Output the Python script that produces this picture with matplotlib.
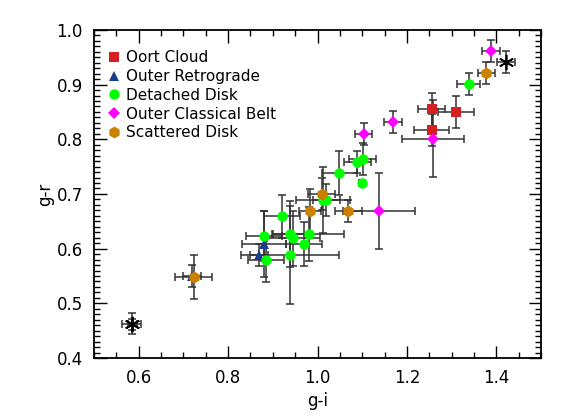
import matplotlib
matplotlib.use("Agg")
import matplotlib.pyplot as plt
from matplotlib.ticker import MultipleLocator

# Oort Cloud
oc_x = [1.255, 1.309, 1.255]
oc_y = [0.855, 0.850, 0.817]
oc_xe = [0.03, 0.04, 0.04]
oc_ye = [0.03, 0.03, 0.03]

# Outer Retrograde
or_x = [0.880, 0.869, 0.720]
or_y = [0.608, 0.588, 0.550]
or_xe = [0.05, 0.02, 0.02]
or_ye = [0.06, 0.02, 0.02]

# Detached Disk
dd_x = [0.880, 0.885, 0.920, 0.938, 0.946, 0.939, 0.970, 0.980, 1.012, 1.020, 1.049, 1.089, 1.101, 1.100, 1.338]
dd_y = [0.623, 0.579, 0.659, 0.627, 0.619, 0.588, 0.609, 0.627, 0.689, 0.689, 0.739, 0.759, 0.764, 0.720, 0.901]
dd_xe = [0.04, 0.04, 0.04, 0.04, 0.06, 0.11, 0.04, 0.08, 0.06, 0.03, 0.039, 0.03, 0.03, 0.007, 0.025]
dd_ye = [0.045, 0.04, 0.04, 0.06, 0.05, 0.09, 0.04, 0.05, 0.06, 0.03, 0.04, 0.02, 0.03, 0.006, 0.02]

# Outer Classical Belt
ocb_x = [1.103, 1.168, 1.258, 1.138, 1.388]
ocb_y = [0.810, 0.831, 0.801, 0.669, 0.961]
ocb_xe = [0.019, 0.02, 0.069, 0.08, 0.02]
ocb_ye = [0.02, 0.02, 0.07, 0.07, 0.02]

# Scattered Disk
sd_x = [0.723, 0.983, 1.009, 1.069, 1.378]
sd_y = [0.548, 0.669, 0.700, 0.669, 0.921]
sd_xe = [0.041, 0.025, 0.03, 0.03, 0.02]
sd_ye = [0.04, 0.04, 0.03, 0.02, 0.02]

# Reference (asterisks)
st_x = [0.584, 0.586, 1.421]
st_y = [0.463, 0.462, 0.942]
st_xe = [0.021, 0.01, 0.02]
st_ye = [0.02, 0.01, 0.02]

plt.rcParams['font.family'] = ['DejaVu Sans']
fig = plt.figure(figsize=(5.68, 4.19), dpi=100)
ax = fig.add_axes([0.1655, 0.1456, 0.787, 0.783])

ecol = '0.2'
ekw = dict(fmt='none', ecolor=ecol, elinewidth=1.1, capsize=3, capthick=1.1, zorder=2)

groups = [
    (oc_x, oc_y, oc_xe, oc_ye, 's', '#d42020', 'Oort Cloud', 7.5),
    (or_x, or_y, or_xe, or_ye, '^', '#1a3c8c', 'Outer Retrograde', 7.5),
    (dd_x, dd_y, dd_xe, dd_ye, 'o', '#00ff00', 'Detached Disk', 7.5),
    (ocb_x, ocb_y, ocb_xe, ocb_ye, 'D', '#ff00ff', 'Outer Classical Belt', 6.5),
    (sd_x, sd_y, sd_xe, sd_ye, 'h', '#cc8000', 'Scattered Disk', 8.5),
]

for x, y, xe, ye, m, c, lab, ms in groups:
    ax.errorbar(x, y, xerr=xe, yerr=ye, **ekw)
for x, y, xe, ye, m, c, lab, ms in groups:
    ax.plot(x, y, linestyle='none', marker=m, color=c, markersize=ms,
            markeredgewidth=0, label=lab, zorder=3)

ax.errorbar(st_x, st_y, xerr=st_xe, yerr=st_ye, **ekw)
ax.plot(st_x, st_y, linestyle='none', marker=(6, 2, 0), color='black',
        markersize=11, markeredgewidth=1.2, zorder=4)

ax.set_xlim(0.5, 1.5)
ax.set_ylim(0.4, 1.0)
ax.xaxis.set_major_locator(MultipleLocator(0.2))
ax.xaxis.set_minor_locator(MultipleLocator(0.05))
ax.yaxis.set_major_locator(MultipleLocator(0.1))
ax.yaxis.set_minor_locator(MultipleLocator(0.01))
ax.tick_params(which='both', direction='in', top=True, right=True, width=1.0,
               labelsize=12, pad=8)
ax.tick_params(which='major', length=9)
ax.tick_params(which='minor', length=4.5)
for s in ax.spines.values():
    s.set_linewidth(1.3)

ax.set_xlabel('g-i', fontsize=12)
ax.set_ylabel('g-r', fontsize=12)
ax.xaxis.set_label_coords(0.5, -0.105)
ax.yaxis.set_label_coords(-0.09, 0.5)

leg = ax.legend(loc='upper left', frameon=False, fontsize=11, handletextpad=0.2,
                handlelength=1.2, borderaxespad=0.6, labelspacing=0.25,
                bbox_to_anchor=(-0.01, 0.985))

fig.savefig('out.png', dpi=100)
